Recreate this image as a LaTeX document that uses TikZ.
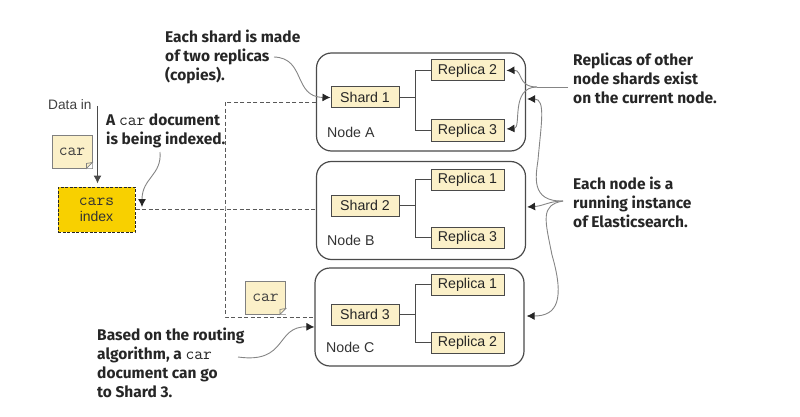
\documentclass[tikz,border=0pt]{standalone}
\usepackage{fontspec}
\setmainfont{Liberation Sans}
\newfontfamily\calloutfont{Fira Sans}
\setmonofont{Latin Modern Mono}
\definecolor{creamfill}{HTML}{FBF0C8}
\definecolor{indexfill}{HTML}{F8D000}
\definecolor{darkline}{HTML}{4A4A4A}
\definecolor{calloutline}{HTML}{858585}
\usetikzlibrary{arrows.meta}
\tikzset{
  x=1pt, y=-1pt,
  nodebox/.style={draw=darkline, line width=1.2pt, rounded corners=15pt, minimum width=209pt, minimum height=98pt},
  shardbox/.style={draw=darkline, line width=1pt, fill=creamfill, font=\fontsize{14.2}{14}\selectfont, text=black!85, minimum width=68pt, minimum height=21pt, inner sep=0pt},
  replicabox/.style={shardbox, minimum width=73pt},
  nodename/.style={anchor=west, font=\fontsize{14.2}{14}\selectfont, text=black!80, inner sep=0pt},
  callout/.style={anchor=west, align=left, inner sep=0pt, text=black!85, font=\calloutfont\bfseries\fontsize{15.5}{19}\selectfont},
  notebox/.style={draw=black!50, line width=.9pt, fill=creamfill, font=\ttfamily\fontsize{17}{17}\selectfont, text=black!75, minimum width=40pt, minimum height=33pt, inner sep=0pt},
  link/.style={darkline, line width=1pt},
  route/.style={black!65, line width=.9pt, dash pattern=on 4pt off 2.5pt},
  note/.style={calloutline, line width=.9pt},
  notetip/.style={note, -{Latex[length=8pt,width=8pt,color=black!85,fill=black!85]}},
}
\begin{document}
\begin{tikzpicture}
  \useasboundingbox (0,0) rectangle (800,417);

  % the three nodes
  \node[nodebox] (nodeA) at (421,102) {};
  \node[nodebox] (nodeB) at (421,210.5) {};
  \node[nodebox] (nodeC) at (419.5,317) {};
  \node[nodename] (nameA) at (327,132) {Node A};
  \node[nodename] (nameB) at (327,240) {Node B};
  \node[nodename] (nameC) at (326,347) {Node C};

  % shards and replicas
  \node[shardbox] (shardA) at (365,97.5) {Shard 1};
  \node[replicabox] (repA2) at (467.5,70.5) {Replica 2};
  \node[replicabox] (repA3) at (467.5,130.5) {Replica 3};
  \node[shardbox] (shardB) at (365,205.5) {Shard 2};
  \node[replicabox] (repB1) at (467.5,179.5) {Replica 1};
  \node[replicabox] (repB3) at (467.5,237.5) {Replica 3};
  \node[shardbox] (shardC) at (365,314.5) {Shard 3};
  \node[replicabox] (repC1) at (467.5,284.5) {Replica 1};
  \node[replicabox] (repC2) at (467.5,342.5) {Replica 2};

  \draw[link] (shardA.east) -- (415,97.5) |- (repA2.west);
  \draw[link] (shardA.east) -- (415,97.5) |- (repA3.west);
  \draw[link] (shardB.east) -- (415,205.5) |- (repB1.west);
  \draw[link] (shardB.east) -- (415,205.5) |- (repB3.west);
  \draw[link] (shardC.east) -- (415,314.5) |- (repC1.west);
  \draw[link] (shardC.east) -- (415,314.5) |- (repC2.west);

  % index and documents
  \node[anchor=west, inner sep=0pt, font=\fontsize{13.7}{14}\selectfont, text=black!75] (datain) at (48,105) {Data in};
  \node[draw=black!85, line width=1pt, dash pattern=on 3pt off 1.5pt, fill=indexfill, minimum width=77pt, minimum height=45pt, inner sep=0pt, align=center, text=black!80, font=\fontsize{14}{16}\selectfont] (index) at (96.5,209.5) {{\ttfamily\fontsize{17}{16}\selectfont cars}\\index};
  \node[notebox] (carA) at (72,151.5) {car};
  \node[notebox] (carB) at (265.5,297.5) {car};
  \fill[white] (carA.south east) -- ++(-6,0) -- ++(6,-6) -- cycle;
  \draw[black!50, fill=creamfill, line width=.7pt] (carA.south east) ++(-6,0) -- ++(6,-6) -- ++(-6,1) -- cycle;
  \fill[white] (carB.south east) -- ++(-6,0) -- ++(6,-6) -- cycle;
  \draw[black!50, fill=creamfill, line width=.7pt] (carB.south east) ++(-6,0) -- ++(6,-6) -- ++(-6,1) -- cycle;

  \coordinate (datatop) at (97.5,106);
  \draw[link, -{Latex[length=8pt,width=8pt]}] (datatop) -- ([yshift=3]index.north -| datatop);

  % routing of the document
  \coordinate (routeV) at (225,209.5);
  \draw[route] (index.east) -- (index.east -| nodeB.west);
  \draw[route] (nodeA.west) -| (routeV) |- (nodeC.west);

  % callouts
  \node[callout] (noteShard) at (165,57) {Each shard is made\\of two replicas\\(copies).};
  \node[callout] (noteDoc) at (106,131) {A {\ttfamily\mdseries\fontsize{17}{19}\selectfont car} document\\is being indexed.};
  \node[callout] (noteRoute) at (97,363) {Based on the routing\\algorithm, a {\ttfamily\mdseries\fontsize{17}{19}\selectfont car}\\document can go\\to Shard 3.};
  \node[callout] (noteRep) at (573,78) {Replicas of other\\node shards exist\\on the current node.};
  \node[callout] (noteInst) at (573,202) {Each node is a\\running instance\\of Elasticsearch.};

  \coordinate (fromShard) at (274,57);
  \coordinate (fromDoc) at (160,152);
  \coordinate (fromRoute) at (238,357);
  \coordinate (fromRep) at (568,87);
  \coordinate (forkRep) at (537,87);
  \coordinate (fromInst) at (563,201);

  \draw[notetip] (fromShard) .. controls (306,58) and (293,97) .. (shardA.west);
  \draw[notetip] (fromDoc) .. controls (162,175) and (142,178) .. (142,207);
  \draw[notetip] (fromRoute) .. controls (288,364) and (275,326) .. ([yshift=-10]nodeC.west);
  \draw[note] (fromRep) -- (forkRep);
  \draw[notetip] (forkRep) .. controls (517,87) and (523,70) .. ([xshift=2]repA2.east);
  \draw[notetip] (forkRep) .. controls (510,87) and (522,128) .. ([xshift=2,yshift=1.5]repA3.east);
  \draw[notetip] (fromInst) .. controls (530,202) and (536,175) .. (538,160) .. controls (541,125) and (546,99) .. ([xshift=1,yshift=3]nodeA.east);
  \draw[notetip] (fromInst) .. controls (550,201) and (543,206) .. ([xshift=1,yshift=3.5]nodeB.east);
  \draw[notetip] (fromInst) .. controls (540,205) and (545,220) .. (552,255) .. controls (565,300) and (557,316) .. ([xshift=2,yshift=1]nodeC.east);
\end{tikzpicture}
\end{document}
